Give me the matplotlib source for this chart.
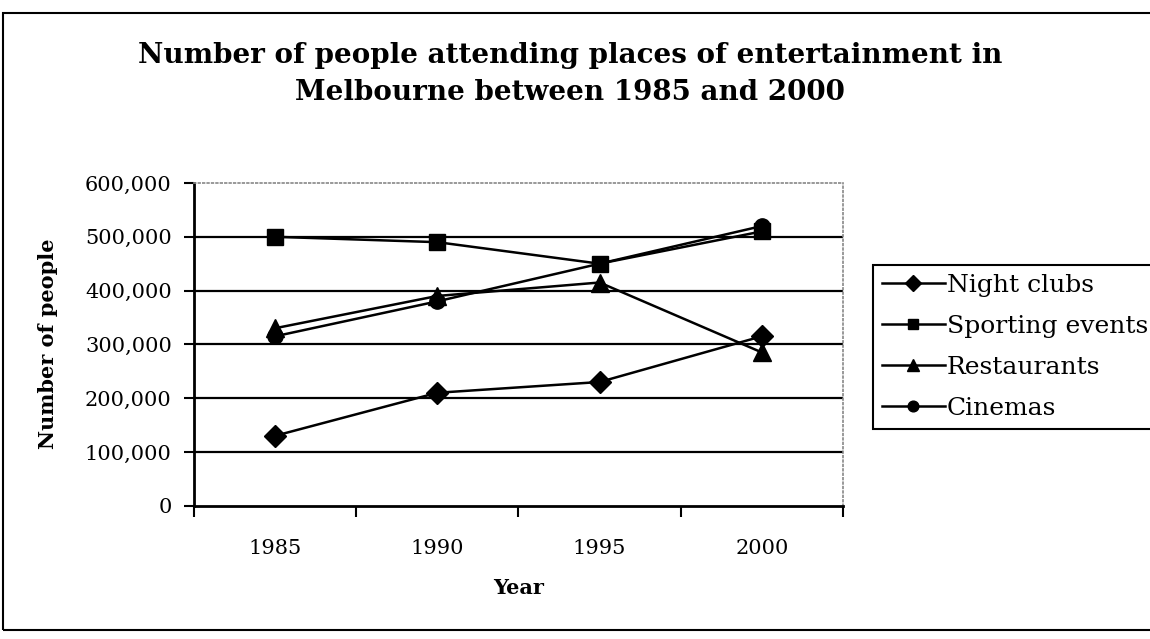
import numpy as np
import matplotlib
matplotlib.use("Agg")
import matplotlib.pyplot as plt
from matplotlib.ticker import FuncFormatter
from matplotlib.patches import Rectangle

###################################################
years = ["1985", "1990", "1995", "2000"]
night_clubs = [130000, 210000, 230000, 315000]
sporting_events = [500000, 490000, 450000, 510000]
restaurants = [330000, 390000, 415000, 285000]
cinemas = [315000, 380000, 450000, 520000]
y_ticks = [0, 100000, 200000, 300000, 400000, 500000, 600000]

plt.rc("font", family="DejaVu Serif")

fig = plt.figure(figsize=(11.5, 6.39), dpi=100)
ax = fig.add_axes([0.1687, 0.2086, 0.5643, 0.505])

x = np.arange(len(years))
style = dict(color="black", lw=1.8, markeredgecolor="black", markerfacecolor="black")
ax.plot(x, night_clubs, marker="D", ms=11.5, label="Night clubs", **style)
ax.plot(x, sporting_events, marker="s", ms=11, label="Sporting events", **style)
ax.plot(x, restaurants, marker="^", ms=12.5, label="Restaurants", **style)
ax.plot(x, cinemas, marker="o", ms=11, label="Cinemas", **style)

# horizontal gridlines (not at 0 / top)
for v in y_ticks[1:-1]:
    ax.axhline(v, color="black", lw=1.6, zorder=1)

ax.set_xlim(-0.5, len(years) - 0.5)
ax.set_ylim(0, 600000)
ax.set_yticks(y_ticks)
ax.yaxis.set_major_formatter(FuncFormatter(lambda v, p: f"{int(v):,}"))

# excel style: ticks between categories, labels at centres
ax.set_xticks(np.arange(-0.5, len(years), 1))
ax.set_xticklabels([])
ax.set_xticks(x, minor=True)
ax.set_xticklabels(years, minor=True)
ax.tick_params(axis="x", which="major", length=8, width=1.5, direction="out")
ax.tick_params(axis="x", which="minor", length=0, pad=24, labelsize=15)
ax.tick_params(axis="y", length=7, width=1.5, pad=9, labelsize=15)

for s in ["left", "bottom"]:
    ax.spines[s].set_linewidth(2)
for s in ["top", "right"]:
    ax.spines[s].set_color("#888888")
    ax.spines[s].set_linestyle(":")
    ax.spines[s].set_linewidth(1.2)

fig.text(570 / 1150, 1 - 74 / 639,
         "Number of people attending places of entertainment in\nMelbourne between 1985 and 2000",
         ha="center", va="center", fontsize=20, fontweight="bold", linespacing=1.45)
fig.text(48 / 1150, 1 - 344 / 639, "Number of people", rotation=90,
         ha="center", va="center", fontsize=15, fontweight="bold")
fig.text(519 / 1150, 1 - 588 / 639, "Year", ha="center", va="center",
         fontsize=15, fontweight="bold")

leg = ax.legend(loc="upper left", bbox_to_anchor=(873 / 1150, 1 - 265 / 639),
                bbox_transform=fig.transFigure, fontsize=18, frameon=True,
                fancybox=False, edgecolor="black", framealpha=1,
                handlelength=2.5, handletextpad=0.1, borderpad=0.36,
                labelspacing=0.72, borderaxespad=0, markerscale=0.7)
leg.get_frame().set_linewidth(1.5)

# outer frame round the whole picture
fig.add_artist(Rectangle((3 / 1150, 1 - 630 / 639), 1.1, (630 - 13) / 639,
                         transform=fig.transFigure, fill=False, ec="black", lw=1.5))

fig.savefig("out.png", dpi=100)
